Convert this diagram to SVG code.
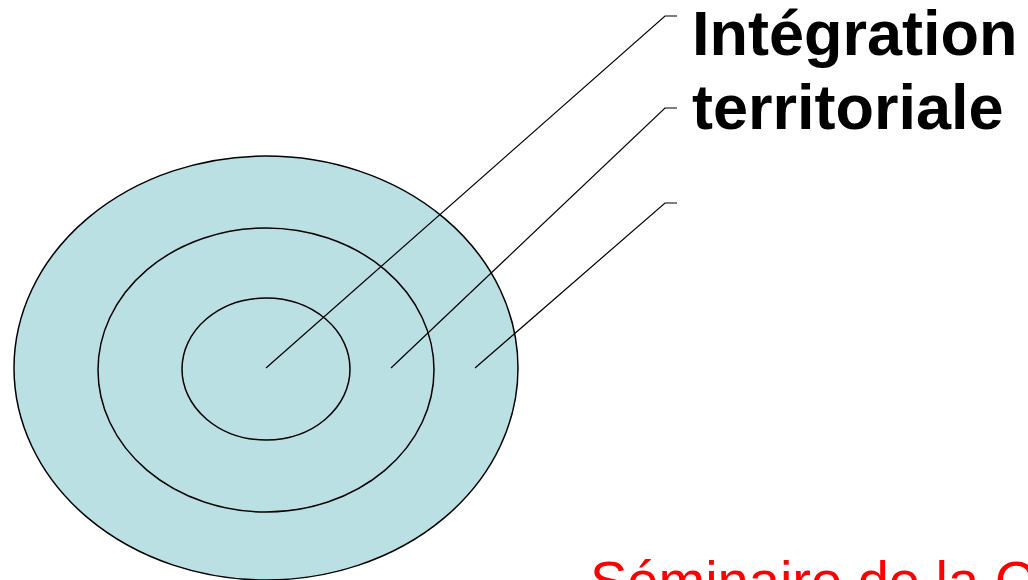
<svg xmlns="http://www.w3.org/2000/svg" width="1028" height="580" viewBox="0 0 1028 580">
<style>
.ring{fill:#bbe0e3;stroke:#000;stroke-width:1.5}
.ring2{fill:none;stroke:#000;stroke-width:1.5}
.lead{fill:none;stroke:#000;stroke-width:1.2}
.lbl{font-family:"Liberation Sans",Arial,sans-serif;font-weight:bold;font-size:63px;fill:#000}
.foot{font-family:"Liberation Sans",Arial,sans-serif;font-size:56px;fill:#ff0000}
</style>
<rect width="1028" height="580" fill="#fff"/>
<g id="outer"><ellipse class="ring" cx="266" cy="368" rx="252" ry="212"/></g>
<g id="middle"><ellipse class="ring2" cx="266" cy="370" rx="168" ry="142"/></g>
<g id="inner"><ellipse class="ring2" cx="266" cy="369" rx="84" ry="71"/></g>
<g id="connectors">
<polyline class="lead" points="266,368 665,16 677,16"/>
<polyline class="lead" points="391,368 665,108 677,108"/>
<polyline class="lead" points="475,368 665,203 677,203"/>
</g>
<g id="label">
<text class="lbl" x="692" y="55">Intégration</text>
<text class="lbl" x="692" y="129">territoriale</text>
</g>
<text class="foot" x="590" y="600">Séminaire de la C</text>
</svg>
